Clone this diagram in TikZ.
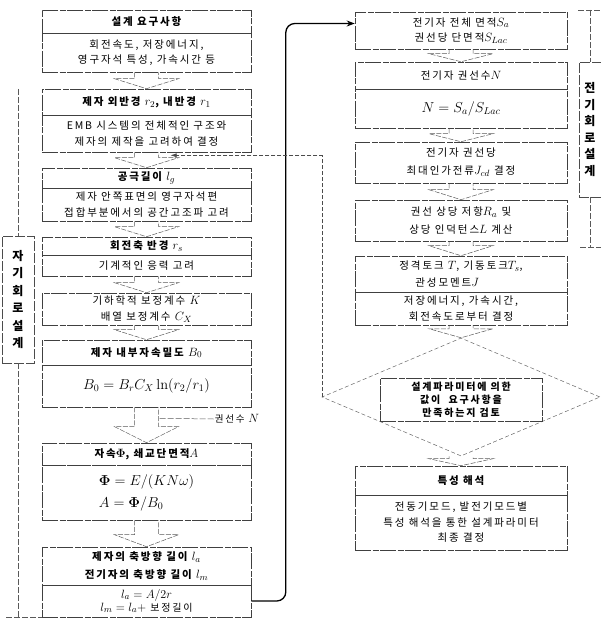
\documentclass[tikz,border=0pt]{standalone}
\usepackage[no-math]{fontspec}
\usetikzlibrary{calc,shapes.geometric,arrows.meta}
\newfontfamily\kr[LetterSpace=18]{Noto Sans CJK KR}
\newfontfamily\krl[LetterSpace=6]{Noto Sans CJK KR}
\newcommand\mm[1]{{\fontsize{12.5}{15}\selectfont$#1$}}
\newcommand\barrow[3][10]{%
  \draw[blockarr] let \p1=(#2.south), \p2=(#3.north) in
   (\x1-12pt,\y1) -- (\x1-12pt,\y2+#1pt) -- (\x1-32pt,\y2+#1pt) -- (\x1,\y2)
   -- (\x1+32pt,\y2+#1pt) -- (\x1+12pt,\y2+#1pt) -- (\x1+12pt,\y1);}
\tikzset{
  bx/.style={draw=black!75, line width=0.6pt, dash pattern=on 16pt off 1.5pt on 6pt off 1.5pt,
    rectangle, inner sep=0pt, align=center, font=\kr\fontsize{10.5}{15.5}\selectfont},
  lw/.style={bx, minimum width=209},
  rw/.style={bx, minimum width=212},
  blockarr/.style={draw=black!65, line width=0.5pt, dash pattern=on 5pt off 1.5pt},
  brk/.style={draw=black!65, line width=0.5pt, dash pattern=on 6pt off 2pt},
  mainline/.style={draw=black, line width=1.3pt, rounded corners=9, -{Stealth[length=8pt,width=6pt]}},
  fbline/.style={draw=black!70, line width=0.5pt, dash pattern=on 4pt off 2pt, -{Latex[length=6pt,width=4pt]}},
  sidelbl/.style={draw=black!70, line width=0.6pt, dash pattern=on 10pt off 2pt, inner sep=0pt,
    align=center, font=\krl\bfseries\fontsize{12}{17.5}\selectfont},
}
\begin{document}
\begin{tikzpicture}[x=1pt,y=-1pt]
\useasboundingbox (0,0) rectangle (601,631);
% ---------- left column ----------
\node[lw, minimum height=23] (b1t) at (146.5,21.5) {\bfseries 설계 요구사항};
\node[lw, minimum height=39] (b1b) at (146.5,52.5) {회전속도, 저장에너지,\\영구자석 특성, 가속시간 등};
\node[lw, minimum height=26] (b2t) at (146.5,102) {\bfseries 제자 외반경 \mm{r_2}, 내반경 \mm{r_1}};
\node[lw, minimum height=37] (b2b) at (146.5,133.5) {EMB 시스템의 전체적인 구조와\\제자의 제작을 고려하여 결정};
\node[lw, minimum height=20] (b3t) at (146.5,178) {\bfseries 공극길이 \mm{l_g}};
\node[lw, minimum height=33] (b3b) at (146.5,204.5) {제자 안쪽표면의 영구자석편\\접합부분에서의 공간고조파 고려};
\node[lw, minimum height=18] (b4t) at (146.5,246) {\bfseries 회전축 반경 \mm{r_s}};
\node[lw, minimum height=21] (b4b) at (146.5,265.5) {기계적인 응력 고려};
\node[lw, minimum height=32, font=\kr\fontsize{10.5}{16}\selectfont] (b5) at (146.5,309) {기하학적 보정계수 \mm{K}\\배열 보정계수 \mm{C_X}};
\node[lw, minimum height=25] (b6t) at (146.5,352.5) {\bfseries 제자 내부자속밀도 \mm{B_0}};
\node[lw, minimum height=42] (b6b) at (146.5,386) {\fontsize{14}{16}\selectfont $B_0 = B_r C_X \ln(r_2/r_1)$};
\node[lw, minimum height=22] (b7t) at (146.5,454) {\bfseries 자속\mm{\mathbf{\Phi}}, 쇄교단면적\mm{A}};
\node[lw, minimum height=55, align=left, font=\fontsize{14}{22}\selectfont] (b7b) at (146.5,492.5)
  {$\mathbf{\Phi} = E/(KN\omega)$\\$A = \mathbf{\Phi}/B_0$};
\node[lw, minimum height=38, font=\kr\fontsize{10.5}{18}\selectfont] (b8t) at (146.5,566) {\bfseries 제자의 축방향 길이 \mm{l_a}\\\bfseries 전기자의 축방향 길이 \mm{l_m}};
\node[lw, minimum height=32, font=\kr\fontsize{10}{13}\selectfont] (b8b) at (146.5,601) {\mm{l_a = A/2r}\\\mm{l_m = l_a +} 보정길이};
% ---------- right column ----------
\node[rw, minimum height=37] (r1) at (461,30.5) {전기자 전체 면적\mm{S_a}\\권선당 단면적\mm{S_{Lac}}};
\node[rw, minimum height=27] (r2t) at (461,75.5) {전기자 권선수\mm{N}};
\node[rw, minimum height=39] (r2b) at (461,108.5) {\fontsize{14}{16}\selectfont $N = S_a/S_{Lac}$};
\node[rw, minimum height=41, font=\kr\fontsize{10.5}{18}\selectfont] (r3) at (461,162.5) {전기자 권선당\\최대인가전류\mm{J_{cd}} 결정};
\node[rw, minimum height=41, font=\kr\fontsize{10.5}{18}\selectfont] (r4) at (461,220.5) {권선 상당 저항\mm{R_a} 및\\상당 인덕턴스\mm{L} 계산};
\node[rw, minimum height=36, align=left, font=\kr\fontsize{10.5}{17}\selectfont] (r5t) at (461,274) {정격토크 \mm{T}, 기동토크\mm{T_s},\\\hspace*{16pt}관성모멘트\mm{J}};
\node[rw, minimum height=33] (r5b) at (461,308.5) {저장에너지, 가속시간,\\회전속도로부터 결정};
\node[diamond, draw=black!60, line width=0.5pt, dash pattern=on 4pt off 2.5pt, minimum width=278, minimum height=118, inner sep=0pt] (dec) at (461,397) {};
\node[bx, minimum width=162, minimum height=43, font=\kr\bfseries\fontsize{10}{13}\selectfont] (decbox) at (461,399.5)
  {설계파라미터에 의한\\값이 \ 요구사항을\\만족하는지 검토};
\node[rw, minimum height=29] (r6t) at (461,480.5) {\bfseries 특성 해석};
\node[rw, minimum height=55] (r6b) at (461,522.5) {전동기모드, 발전기모드별\\특성 해석을 통한 설계파라미터\\최종 결정};
% ---------- block arrows ----------
\barrow{b1b}{b2t}
\barrow{b2b}{b3t}
\barrow{b3b}{b4t}
\barrow{b4b}{b5}
\barrow{b5}{b6t}
\barrow[16]{b6b}{b7t}
\barrow[12]{b7b}{b8t}
\barrow[8]{r1}{r2t}
\barrow[8]{r2b}{r3}
\barrow[10]{r3}{r4}
\barrow[10]{r4}{r5t}
\barrow[9]{r5b}{dec}
\barrow[7]{dec}{r6t}
% ---------- side input N ----------
\node[font=\kr\fontsize{9.5}{12}\selectfont, inner sep=1pt] (lblN) at (237,419) {권선수 \mm{N}};
\coordinate (nIn) at ($(b6b.south)+(12,11)$);
\draw[brk] (lblN.west) -- (nIn);
% ---------- main connector ----------
\coordinate (r1in) at ($(r1.west)+(0,-7)$);
\draw[mainline] (b8b.east) -- ++(34.5,0) |- (r1in);
% ---------- feedback ----------
\coordinate (fbend) at ($(b2b.south)+(24,3)$);
\draw[fbline] (dec.west) |- (fbend);
% ---------- left bracket ----------
\node[sidelbl, minimum width=32, minimum height=127] (lblL) at (18,299.5) {자\\기\\회\\로\\설\\계};
\coordinate (lTop) at (18,89);
\coordinate (lBot) at (18,617);
\draw[brk] (lTop) -- (lblL.north);
\draw[brk] (lblL.south) -- (lBot);
\draw[brk] ($(lBot)+(-12,0)$) -- ($(lBot)+(24,0)$);
% ---------- right bracket ----------
\node[sidelbl, minimum width=22, minimum height=135, font=\krl\bfseries\fontsize{12}{16.6}\selectfont] (lblR) at (590,129.5) {전\\기\\회\\로\\설\\계};
\coordinate (rTop) at (590,10);
\coordinate (rBot) at (590,247);
\draw[brk] ($(rTop)+(-12,0)$) -- ($(rTop)+(11,0)$);
\draw[brk] (rTop) -- (lblR.north);
\draw[brk] (lblR.south) -- (rBot);
\draw[brk] ($(rBot)+(-10,0)$) -- ($(rBot)+(11,0)$);
\end{tikzpicture}
\end{document}
